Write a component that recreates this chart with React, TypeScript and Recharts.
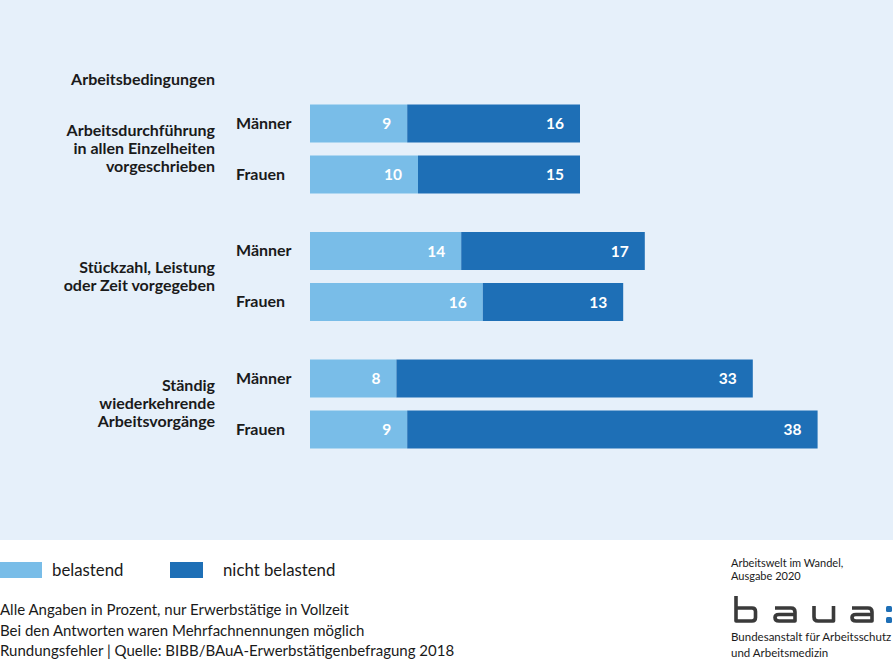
import React from 'react';
import { BarChart, Bar, XAxis, YAxis, LabelList } from 'recharts';

const groupLabels: string[][] = [
  ['Arbeitsdurchführung', 'in allen Einzelheiten', 'vorgeschrieben'],
  ['Stückzahl, Leistung', 'oder Zeit vorgegeben'],
  ['Ständig', 'wiederkehrende', 'Arbeitsvorgänge'],
];
const groupPositions = [0.5, 3, 5.5];
const rowLabels = ['Männer', 'Frauen', 'Männer', 'Frauen', 'Männer', 'Frauen'];
const rowPositions = [0, 1, 2.5, 3.5, 5, 6];
const belastend = [9, 10, 14, 16, 8, 9];
const nichtBelastend = [16, 15, 17, 13, 33, 38];
const seriesNames = ['belastend', 'nicht belastend'];
const footnotes = [
  'Alle Angaben in Prozent, nur Erwerbstätige in Vollzeit',
  'Bei den Antworten waren Mehrfachnennungen möglich',
  'Rundungsfehler | Quelle: BIBB/BAuA-Erwerbstätigenbefragung 2018',
];

const data = rowPositions.map((pos, i) => ({
  pos,
  label: rowLabels[i],
  belastend: belastend[i],
  nicht: nichtBelastend[i],
}));

const LIGHT = '#79bde8';
const DARK = '#1e6fb6';
const BG = '#e6f0fa';
const TEXT = '#1a1a1a';
const FONT = 'Lato, "Noto Sans", sans-serif';

const GENDER_X = 236;
const GROUP_X = 215;

const RowTick = (props: any) => {
  const { y, payload } = props;
  const idx = rowPositions.indexOf(payload.value);
  return (
    <text x={GENDER_X} y={y} dy="0.35em" textAnchor="start" fill={TEXT}
      style={{ fontFamily: FONT, fontWeight: 700, fontSize: 16 }}>
      {rowLabels[idx]}
    </text>
  );
};

const GroupTick = (props: any) => {
  const { y, payload } = props;
  const idx = groupPositions.indexOf(payload.value);
  const lines = groupLabels[idx] || [];
  const lh = 18;
  const start = -((lines.length - 1) * lh) / 2;
  return (
    <text x={GROUP_X} y={y} textAnchor="end" fill={TEXT}
      style={{ fontFamily: FONT, fontWeight: 700, fontSize: 16 }}>
      {lines.map((l, i) => (
        <tspan key={i} x={GROUP_X} y={y + start + i * lh} dy="0.35em">{l}</tspan>
      ))}
    </text>
  );
};

const Logo = () => (
  <svg width={893} height={663} style={{ position: 'absolute', left: 0, top: 0, pointerEvents: 'none' }}>
    <g fill="none" stroke="#3a3a3a" strokeWidth={3.6} strokeLinejoin="round" strokeLinecap="butt">
      <path d="M736 596 V621 H752 Q755.5 621 755.5 617.5 V611.5 Q755.5 608 752 608 H736" />
      <path d="M775 608 H791 Q795 608 795 612 V621 H779 Q775 621 775 617.5 Q775 614.5 779 614.5 H795" />
      <path d="M814 606 V617 Q814 621 818 621 H833.5 V606" />
      <path d="M852 608 H868 Q872 608 872 612 V621 H856 Q852 621 852 617.5 Q852 614.5 856 614.5 H872" />
    </g>
    <rect x={886} y={606} width={6} height={6} rx={1.5} fill={DARK} />
    <rect x={886} y={617} width={6} height={6} rx={1.5} fill={DARK} />
  </svg>
);

export default function App() {
  return (
    <div style={{ position: 'absolute', left: 0, top: 0, width: 893, height: 663, background: '#ffffff', fontFamily: FONT, color: TEXT, overflow: 'hidden' }}>
      <div style={{ position: 'absolute', left: 0, top: 0, width: 893, height: 540, background: BG }}>
        <div style={{ position: 'absolute', right: 893 - GROUP_X, top: 69, fontSize: 16, fontWeight: 700, whiteSpace: 'nowrap' }}>
          Arbeitsbedingungen
        </div>
        <BarChart
          width={893}
          height={540}
          data={data}
          layout="vertical"
          margin={{ top: 97.5, right: 43, bottom: 85.5, left: 0 }}
          barSize={38}
        >
          <XAxis type="number" domain={[0, 50]} hide allowDataOverflow />
          <YAxis yAxisId="groups" type="number" dataKey="pos" domain={[-0.5, 6.5]} ticks={groupPositions}
            width={215} axisLine={false} tickLine={false} tick={<GroupTick />} interval={0} allowDecimals />
          <YAxis yAxisId="rows" type="number" dataKey="pos" domain={[-0.5, 6.5]} ticks={rowPositions}
            width={95} axisLine={false} tickLine={false} tick={<RowTick />} interval={0} allowDecimals />
          <Bar yAxisId="rows" dataKey="belastend" stackId="a" fill={LIGHT} isAnimationActive={false} name={seriesNames[0]}>
            <LabelList dataKey="belastend" position="insideRight" offset={16} fill="#ffffff"
              style={{ fontFamily: FONT, fontWeight: 700, fontSize: 15.5 }} />
          </Bar>
          <Bar yAxisId="rows" dataKey="nicht" stackId="a" fill={DARK} isAnimationActive={false} name={seriesNames[1]}>
            <LabelList dataKey="nicht" position="insideRight" offset={16} fill="#ffffff"
              style={{ fontFamily: FONT, fontWeight: 700, fontSize: 15.5 }} />
          </Bar>
        </BarChart>
      </div>

      <div style={{ position: 'absolute', left: 0, top: 562, width: 42, height: 16, background: LIGHT }} />
      <div style={{ position: 'absolute', left: 52, top: 559, fontSize: 16.8, lineHeight: '22px' }}>{seriesNames[0]}</div>
      <div style={{ position: 'absolute', left: 170, top: 562, width: 33, height: 16, background: DARK }} />
      <div style={{ position: 'absolute', left: 223, top: 559, fontSize: 16.8, lineHeight: '22px' }}>{seriesNames[1]}</div>

      <div style={{ position: 'absolute', left: 0, top: 599, fontSize: 15, lineHeight: '20.5px', whiteSpace: 'nowrap' }}>
        {footnotes.map((f, i) => <div key={i}>{f}</div>)}
      </div>

      <div style={{ position: 'absolute', left: 731, top: 556, fontSize: 11, lineHeight: '13px', whiteSpace: 'nowrap' }}>
        <div>Arbeitswelt im Wandel,</div>
        <div>Ausgabe 2020</div>
      </div>
      <div style={{ position: 'absolute', left: 731, top: 629, fontSize: 11.5, lineHeight: '15.5px', whiteSpace: 'nowrap' }}>
        <div>Bundesanstalt für Arbeitsschutz</div>
        <div>und Arbeitsmedizin</div>
      </div>
      <Logo />
    </div>
  );
}
